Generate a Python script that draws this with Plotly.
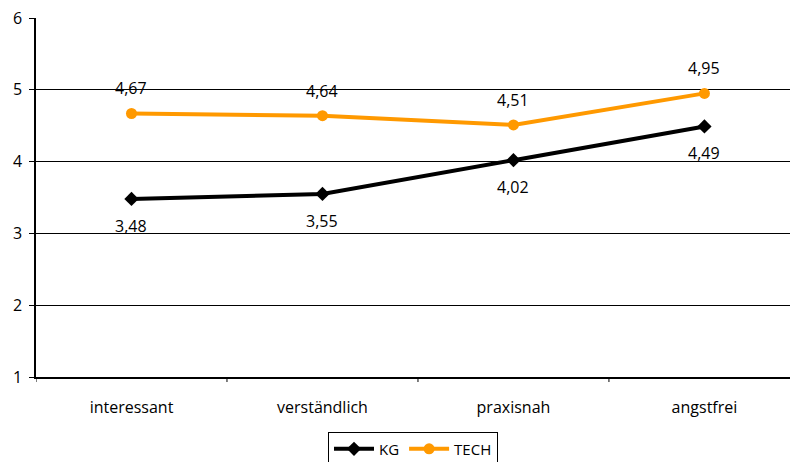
import plotly.graph_objects as go

categories = ["interessant", "verständlich", "praxisnah", "angstfrei"]
kg_values = [3.48, 3.55, 4.02, 4.49]
tech_values = [4.67, 4.64, 4.51, 4.95]
y_ticks = [1, 2, 3, 4, 5, 6]

FONT = "Open Sans, Noto Sans, sans-serif"
x_idx = list(range(len(categories)))

fig = go.Figure()
fig.add_trace(go.Scatter(
    x=x_idx, y=kg_values, name="KG", mode="lines+markers",
    line=dict(color="#000000", width=4),
    marker=dict(symbol="diamond", size=11, color="#000000"),
))
fig.add_trace(go.Scatter(
    x=x_idx, y=tech_values, name="TECH", mode="lines+markers",
    line=dict(color="#FF9900", width=4),
    marker=dict(symbol="circle", size=11, color="#FF9900"),
))

def fmt(v):
    return f"{v:.2f}".replace(".", ",")

for i, v in enumerate(kg_values):
    fig.add_annotation(x=i, y=v, text=fmt(v), showarrow=False, yshift=-27,
                       font=dict(family=FONT, size=16, color="#000000"))
for i, v in enumerate(tech_values):
    fig.add_annotation(x=i, y=v, text=fmt(v), showarrow=False, yshift=25,
                       font=dict(family=FONT, size=16, color="#000000"))

fig.update_layout(
    width=790, height=462,
    margin=dict(l=36, r=0, t=18, b=85, autoexpand=False),
    paper_bgcolor="white", plot_bgcolor="white",
    font=dict(family=FONT, size=16, color="#000000"),
    showlegend=True,
    legend=dict(orientation="h", x=0.5, xanchor="center", y=-0.152, yanchor="top",
                bordercolor="#000000", borderwidth=1, bgcolor="white",
                font=dict(family=FONT, size=15), itemwidth=40, tracegroupgap=0),
    xaxis=dict(
        range=[-0.5, 3.448], tickmode="array", tickvals=x_idx, ticktext=categories,
        showgrid=False, zeroline=False, showline=True, linecolor="#000000", linewidth=1.5,
        ticks="", ticklabelstandoff=15, fixedrange=True,
    ),
    yaxis=dict(
        range=[1, 6], tickmode="array", tickvals=y_ticks,
        showgrid=True, gridcolor="#000000", gridwidth=1, zeroline=False,
        showline=True, linecolor="#000000", linewidth=1.5,
        ticks="outside", ticklen=5, tickcolor="#000000", ticklabelstandoff=4,
    ),
)

# tick marks at category boundaries on the category axis
for b in [-0.5, 0.5, 1.5, 2.5]:
    fig.add_shape(type="line", xref="x", yref="paper", x0=b, x1=b, y0=0, y1=-0.014,
                  line=dict(color="#000000", width=1))

fig.write_html("out.html")
